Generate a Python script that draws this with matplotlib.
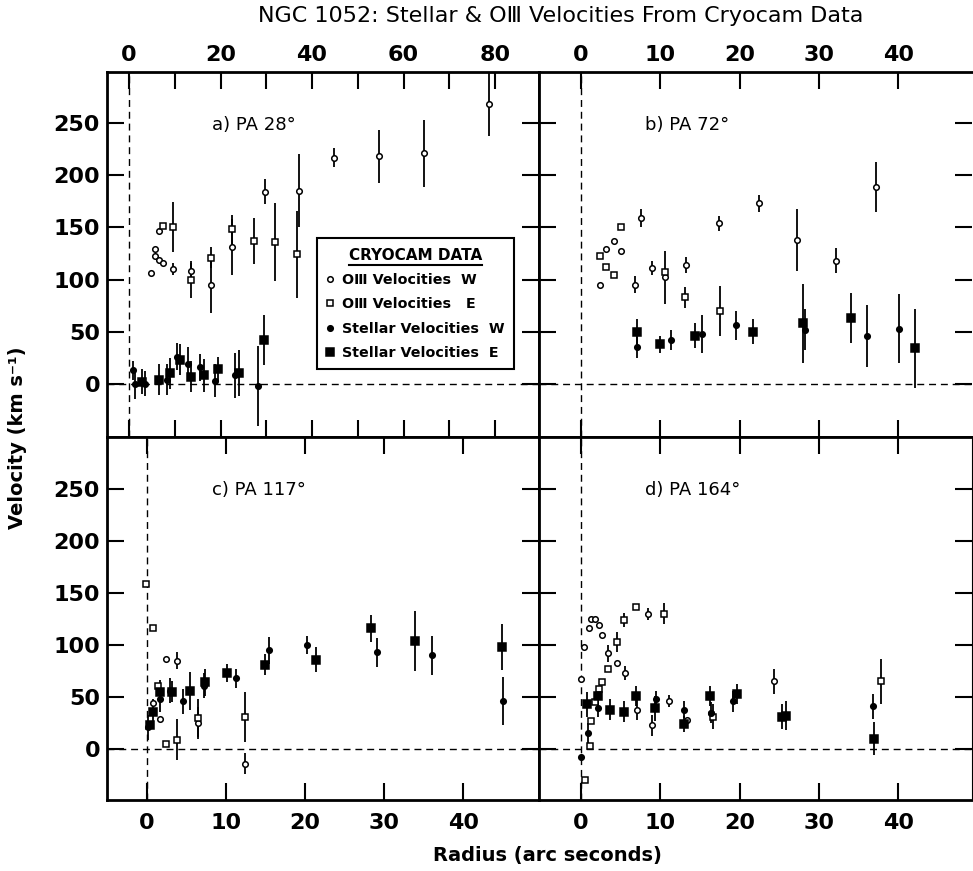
import matplotlib
matplotlib.use("Agg")
import matplotlib.pyplot as plt
from matplotlib.lines import Line2D

plt.rcParams['font.family'] = ['DejaVu Sans']
plt.rcParams['font.weight'] = 'bold'

# (radius, velocity, error) -- panel a radius is on the 0-80 scale
a_oiii_w = [(4.7, 106, 0), (5.6, 129, 0), (5.6, 123, 0), (6.5, 147, 0), (6.5, 119, 0), (7.4, 116, 0),
            (9.6, 110, 6), (13.5, 108, 8), (17.9, 95, 27), (22.5, 131, 27), (29.8, 184, 12),
            (37.1, 185, 35), (44.9, 217, 9), (54.7, 218, 25), (64.5, 221, 32), (78.6, 268, 30)]
a_oiii_e = [(7.5, 151, 0), (9.6, 150, 24), (13.5, 100, 18), (17.9, 121, 10), (22.5, 148, 14),
            (27.3, 137, 22), (32.0, 136, 37), (36.8, 124, 42)]
a_star_w = [(0.9, 13, 9), (1.2, 0, 15), (3.4, 0, 12), (8.4, 4, 15), (10.4, 26, 13), (12.8, 19, 16),
            (15.5, 16, 13), (18.7, 3, 16), (23.1, 8, 22), (28.2, -2, 38)]
a_star_e = [(2.9, 2, 12), (6.5, 4, 15), (8.9, 10, 15), (11.1, 23, 15), (13.6, 7, 15), (16.3, 8, 16),
            (19.5, 14, 12), (24.1, 10, 22), (29.6, 42, 24)]

b_oiii_w = [(2.4, 95, 0), (3.2, 129, 0), (4.2, 137, 0), (5.1, 127, 0), (6.8, 95, 8), (7.5, 159, 9),
            (8.9, 111, 7), (10.6, 102, 25), (13.2, 114, 8), (17.4, 154, 7), (22.5, 173, 8),
            (27.2, 138, 30), (32.1, 118, 12), (37.2, 189, 24)]
b_oiii_e = [(2.4, 123, 0), (3.2, 112, 0), (4.1, 104, 0), (5.0, 150, 0), (10.6, 107, 0), (13.1, 83, 10),
            (17.5, 70, 24)]
b_star_w = [(7.0, 35, 10), (11.4, 42, 10), (15.3, 48, 18), (19.6, 56, 14), (28.3, 52, 20),
            (36.0, 46, 30), (40.1, 53, 33)]
b_star_e = [(7.1, 50, 12), (10.0, 38, 8), (14.4, 46, 12), (21.7, 50, 12), (28.0, 58, 38),
            (34.1, 63, 24), (42.1, 34, 38)]

c_oiii_w = [(0.7, 44, 0), (1.6, 29, 0), (2.4, 87, 0), (3.8, 85, 8), (6.4, 25, 15), (12.4, -14, 10)]
c_oiii_e = [(-0.1, 159, 0), (0.7, 116, 0), (1.4, 61, 0), (2.4, 5, 0), (3.8, 9, 20), (6.4, 30, 18),
            (12.4, 31, 24)]
c_star_w = [(0.1, 21, 12), (1.6, 48, 12), (2.9, 56, 12), (4.6, 46, 12), (7.2, 61, 12), (11.3, 68, 9),
            (15.4, 95, 13), (20.3, 100, 9), (29.1, 93, 14), (36.0, 90, 19), (45.1, 46, 23)]
c_star_e = [(0.4, 23, 0), (0.8, 36, 12), (1.7, 55, 11), (3.2, 55, 10), (5.5, 56, 18), (7.4, 64, 13),
            (10.1, 73, 9), (14.9, 81, 10), (21.4, 86, 12), (28.3, 116, 13), (33.9, 104, 29),
            (44.9, 98, 22)]

d_oiii_w = [(0.0, 67, 0), (0.4, 98, 0), (1.0, 116, 0), (1.3, 125, 0), (1.7, 125, 0), (2.3, 119, 0),
            (2.6, 110, 0), (3.4, 92, 8), (4.5, 83, 0), (5.5, 73, 7), (7.0, 38, 10), (8.5, 130, 6),
            (9.0, 23, 10), (11.1, 46, 6), (13.3, 28, 0), (16.4, 35, 0), (24.3, 65, 12)]
d_oiii_e = [(0.5, -30, 0), (1.1, 3, 0), (1.3, 27, 0), (1.8, 45, 0), (2.3, 58, 0), (2.7, 64, 0),
            (3.4, 77, 0), (4.5, 103, 10), (5.4, 124, 7), (6.9, 137, 0), (10.4, 130, 10),
            (16.7, 31, 12), (37.8, 65, 22)]
d_star_w = [(0.0, -8, 0), (0.9, 15, 10), (2.2, 39, 8), (9.4, 48, 8), (13.0, 38, 8), (16.4, 35, 10),
            (19.2, 46, 10), (36.8, 41, 12)]
d_star_e = [(0.8, 43, 12), (2.1, 51, 8), (3.7, 38, 10), (5.4, 36, 10), (6.9, 51, 10), (9.3, 39, 12),
            (13.0, 24, 8), (16.2, 51, 10), (19.7, 53, 10), (25.4, 31, 12), (25.8, 32, 14),
            (37.0, 10, 16)]

legend_labels = ["OⅢ Velocities  W", "OⅢ Velocities   E", "Stellar Velocities  W", "Stellar Velocities  E"]
panel_titles = ["a) PA 28°", "b) PA 72°", "c) PA 117°", "d) PA 164°"]
yticks = [0, 50, 100, 150, 200, 250]

styles = [dict(marker='o', mfc='white', ms=4.0),
          dict(marker='s', mfc='white', ms=4.3),
          dict(marker='o', mfc='black', ms=4.0),
          dict(marker='s', mfc='black', ms=5.2)]

W, H = 973, 871
fig = plt.figure(figsize=(W / 100, H / 100), dpi=100)


def rect(x0, y0, x1, y1):
    return [x0 / W, 1 - y1 / H, (x1 - x0) / W, (y1 - y0) / H]


ax_a = fig.add_axes(rect(107, 72, 539, 437))
ax_b = fig.add_axes(rect(539, 72, 972, 437))
ax_c = fig.add_axes(rect(107, 437, 539, 800))
ax_d = fig.add_axes(rect(539, 437, 972, 800))


def draw(ax, groups):
    for pts, st in zip(groups, styles):
        x = [p[0] for p in pts]
        y = [p[1] for p in pts]
        e = [p[2] for p in pts]
        ax.errorbar(x, y, yerr=e, fmt='none', ecolor='black', elinewidth=1.3, capsize=0, zorder=2)
        ax.plot(x, y, ls='none', marker=st['marker'], mfc=st['mfc'], mec='black',
                ms=st['ms'], mew=1.1, zorder=3)
    ax.axhline(0, color='black', lw=1, ls=(0, (5, 3.5)), zorder=1)
    ax.axvline(0, color='black', lw=1, ls=(0, (5, 3.5)), zorder=1)
    ax.set_yticks(yticks)
    ax.tick_params(direction='in', length=12, width=1.5, top=True, right=True,
                   labelsize=16, pad=5)
    for s in ax.spines.values():
        s.set_linewidth(2)


draw(ax_a, [a_oiii_w, a_oiii_e, a_star_w, a_star_e])
draw(ax_b, [b_oiii_w, b_oiii_e, b_star_w, b_star_e])
draw(ax_c, [c_oiii_w, c_oiii_e, c_star_w, c_star_e])
draw(ax_d, [d_oiii_w, d_oiii_e, d_star_w, d_star_e])

ax_a.set_xlim(-4.81, 89.6)
ax_a.set_ylim(-51, 299)
ax_a.set_xticks(range(0, 81, 10))
ax_a.set_xticklabels(['0', '', '20', '', '40', '', '60', '', '80'])
ax_a.tick_params(labeltop=True, labelbottom=False)

ax_b.set_xlim(-5.3, 49.3)
ax_b.set_ylim(-51, 299)
ax_b.set_xticks(range(0, 41, 10))
ax_b.tick_params(labeltop=True, labelbottom=False, labelleft=False)
ax_b.spines['right'].set_visible(False)

ax_c.set_xlim(-5.06, 49.6)
ax_c.set_ylim(-49, 300)
ax_c.set_xticks(range(0, 41, 10))
ax_c.tick_params(axis='x', pad=9)

ax_d.set_xlim(-5.3, 49.3)
ax_d.set_ylim(-49, 300)
ax_d.set_xticks(range(0, 41, 10))
ax_d.tick_params(labelleft=False)
ax_d.tick_params(axis='x', pad=9)
ax_d.spines['right'].set_linewidth(0.8)

for ax, t in zip([ax_a, ax_b, ax_c, ax_d], panel_titles):
    ax.text(0.244, 0.84, t, transform=ax.transAxes, fontsize=13, fontweight='normal', va='baseline')

handles = [Line2D([], [], ls='none', marker=st['marker'], mfc=st['mfc'], mec='black',
                  ms=st['ms'], mew=1.1) for st in styles]
leg = ax_a.legend(handles, legend_labels, title="CRYOCAM DATA", loc='lower left',
                  bbox_to_anchor=(0.487, 0.186), fontsize=10.3, title_fontsize=11,
                  frameon=True, fancybox=False, edgecolor='black', framealpha=1,
                  handlelength=0.5, handletextpad=0.6, labelspacing=0.72, borderpad=0.65,
                  borderaxespad=0)
leg.get_frame().set_linewidth(1.5)

fig.text(0.576, 0.982, "NGC 1052: Stellar & OⅢ Velocities From Cryocam Data",
         ha='center', va='center', fontsize=16, fontweight='normal')
fig.text(0.018, 0.497, "Velocity (km s⁻¹)", rotation=90, ha='center', va='center', fontsize=14)
fig.text(0.563, 0.018, "Radius (arc seconds)", ha='center', va='center', fontsize=14)

# underline the legend title
fig.canvas.draw()
bb = leg.get_title().get_window_extent()
fig.add_artist(Line2D([bb.x0 / W, bb.x1 / W], [(bb.y0 - 2) / H, (bb.y0 - 2) / H],
                      color='black', lw=1.5))

fig.savefig("out.png", dpi=100)
